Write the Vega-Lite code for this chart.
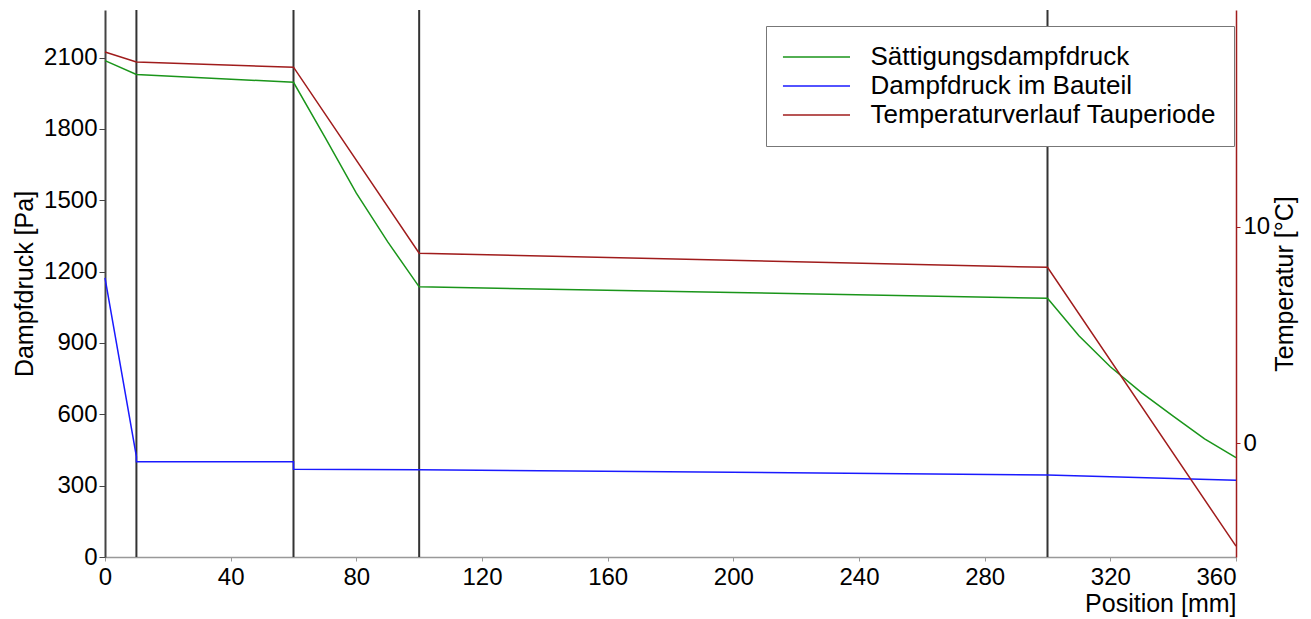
{
  "$schema": "https://vega.github.io/schema/vega-lite/v6.json",
  "width": 1131,
  "height": 547,
  "autosize": {"type": "none"},
  "padding": {"left": 105, "top": 10, "right": 75, "bottom": 62},
  "background": "white",
  "config": {
    "font": "Liberation Sans",
    "view": {"stroke": null},
    "axis": {
      "grid": false,
      "labelFont": "Liberation Sans",
      "titleFont": "Liberation Sans",
      "labelFontSize": 24,
      "titleFontSize": 25,
      "titleFontWeight": "normal",
      "labelColor": "#000000",
      "titleColor": "#000000"
    }
  },
  "datasets": {
    "curves": [
      {"series": "Sättigungsdampfdruck", "o": 1, "x": 0, "v": 2087},
      {"series": "Sättigungsdampfdruck", "o": 2, "x": 10, "v": 2029},
      {"series": "Sättigungsdampfdruck", "o": 3, "x": 60, "v": 1996},
      {"series": "Sättigungsdampfdruck", "o": 4, "x": 70, "v": 1765},
      {"series": "Sättigungsdampfdruck", "o": 5, "x": 80, "v": 1530},
      {"series": "Sättigungsdampfdruck", "o": 6, "x": 90, "v": 1325},
      {"series": "Sättigungsdampfdruck", "o": 7, "x": 100, "v": 1136},
      {"series": "Sättigungsdampfdruck", "o": 8, "x": 200, "v": 1112},
      {"series": "Sättigungsdampfdruck", "o": 9, "x": 300, "v": 1088},
      {"series": "Sättigungsdampfdruck", "o": 10, "x": 310, "v": 930},
      {"series": "Sättigungsdampfdruck", "o": 11, "x": 320, "v": 800},
      {"series": "Sättigungsdampfdruck", "o": 12, "x": 330, "v": 690},
      {"series": "Sättigungsdampfdruck", "o": 13, "x": 340, "v": 592},
      {"series": "Sättigungsdampfdruck", "o": 14, "x": 350, "v": 497},
      {"series": "Sättigungsdampfdruck", "o": 15, "x": 360, "v": 418},
      {"series": "Dampfdruck im Bauteil", "o": 1, "x": 0, "v": 1174},
      {"series": "Dampfdruck im Bauteil", "o": 2, "x": 10, "v": 422},
      {"series": "Dampfdruck im Bauteil", "o": 3, "x": 10, "v": 401},
      {"series": "Dampfdruck im Bauteil", "o": 4, "x": 60, "v": 401},
      {"series": "Dampfdruck im Bauteil", "o": 5, "x": 60, "v": 369},
      {"series": "Dampfdruck im Bauteil", "o": 6, "x": 100, "v": 367},
      {"series": "Dampfdruck im Bauteil", "o": 7, "x": 300, "v": 345},
      {"series": "Dampfdruck im Bauteil", "o": 8, "x": 360, "v": 323},
      {"series": "Temperaturverlauf Tauperiode", "o": 1, "x": 0, "v": 18.06},
      {"series": "Temperaturverlauf Tauperiode", "o": 2, "x": 10, "v": 17.6},
      {"series": "Temperaturverlauf Tauperiode", "o": 3, "x": 60, "v": 17.36},
      {"series": "Temperaturverlauf Tauperiode", "o": 4, "x": 100, "v": 8.77},
      {"series": "Temperaturverlauf Tauperiode", "o": 5, "x": 300, "v": 8.12},
      {"series": "Temperaturverlauf Tauperiode", "o": 6, "x": 360, "v": -4.75}
    ],
    "boundaries": [{"x": 10}, {"x": 60}, {"x": 100}, {"x": 300}]
  },
  "layer": [
    {
      "data": {"name": "boundaries"},
      "mark": {"type": "rule", "color": "#333333", "strokeWidth": 2},
      "encoding": {
        "x": {
          "field": "x",
          "type": "quantitative",
          "scale": {"domain": [0, 360], "nice": false, "zero": false},
          "axis": {
            "title": "Position [mm]",
            "values": [0, 40, 80, 120, 160, 200, 240, 280, 320, 360],
            "format": "d",
            "domainColor": "#999999",
            "domainWidth": 1.5,
            "tickColor": "#999999",
            "tickSize": 4,
            "labelPadding": 4,
            "labelAlign": {"condition": {"test": "datum.value == 360", "value": "right"}, "value": "center"},
            "labelFlush": false,
            "titleAnchor": "end",
            "titlePadding": 2
          }
        }
      }
    },
    {
      "data": {"name": "curves"},
      "transform": [{"filter": "datum.series != 'Temperaturverlauf Tauperiode'"}],
      "mark": {"type": "line", "strokeWidth": 1.5},
      "encoding": {
        "x": {"field": "x", "type": "quantitative", "scale": {"domain": [0, 360], "nice": false, "zero": false}},
        "y": {
          "field": "v",
          "type": "quantitative",
          "scale": {"domain": [0, 2300], "nice": false, "zero": false},
          "axis": {
            "orient": "left",
            "title": "Dampfdruck [Pa]",
            "values": [0, 300, 600, 900, 1200, 1500, 1800, 2100],
            "format": "d",
            "domainColor": "#444444",
            "domainWidth": 2,
            "tickColor": "#444444",
            "tickSize": 6,
            "labelPadding": 2,
            "labelFlush": false,
            "titlePadding": 6
          }
        },
        "color": {
          "field": "series",
          "type": "nominal",
          "scale": {
            "domain": ["Sättigungsdampfdruck", "Dampfdruck im Bauteil", "Temperaturverlauf Tauperiode"],
            "range": ["#1a951a", "#1a1aff", "#a01c1c"]
          },
          "legend": {
            "orient": "none",
            "legendX": 661,
            "legendY": 16,
            "title": null,
            "symbolType": "M-5,0H5",
            "symbolSize": 180,
            "symbolStrokeWidth": 1.5,
            "symbolOffset": 19.5,
            "labelFont": "Liberation Sans",
            "labelFontSize": 26,
            "labelColor": "#000000",
            "labelOffset": 41,
            "labelLimit": 600,
            "rowPadding": 3,
            "padding": 18,
            "strokeColor": "#777777",
            "fillColor": "#ffffff",
            "cornerRadius": 0
          }
        },
        "order": {"field": "o", "type": "quantitative"}
      }
    },
    {
      "data": {"name": "curves"},
      "transform": [{"filter": "datum.series == 'Temperaturverlauf Tauperiode'"}],
      "mark": {"type": "line", "strokeWidth": 1.5},
      "encoding": {
        "x": {"field": "x", "type": "quantitative", "scale": {"domain": [0, 360], "nice": false, "zero": false}},
        "y": {
          "field": "v",
          "type": "quantitative",
          "scale": {"domain": [-5.25, 20], "nice": false, "zero": false},
          "axis": {
            "orient": "right",
            "title": "Temperatur [°C]",
            "values": [0, 10],
            "format": "d",
            "domainColor": "#a01c1c",
            "domainWidth": 1.5,
            "tickColor": "#a01c1c",
            "tickSize": 4,
            "labelPadding": 3,
            "labelFlush": false,
            "titleAngle": 270,
            "titleBaseline": "top",
            "titlePadding": 3
          }
        },
        "color": {"field": "series", "type": "nominal"},
        "order": {"field": "o", "type": "quantitative"}
      }
    }
  ],
  "resolve": {"scale": {"y": "independent"}}
}
